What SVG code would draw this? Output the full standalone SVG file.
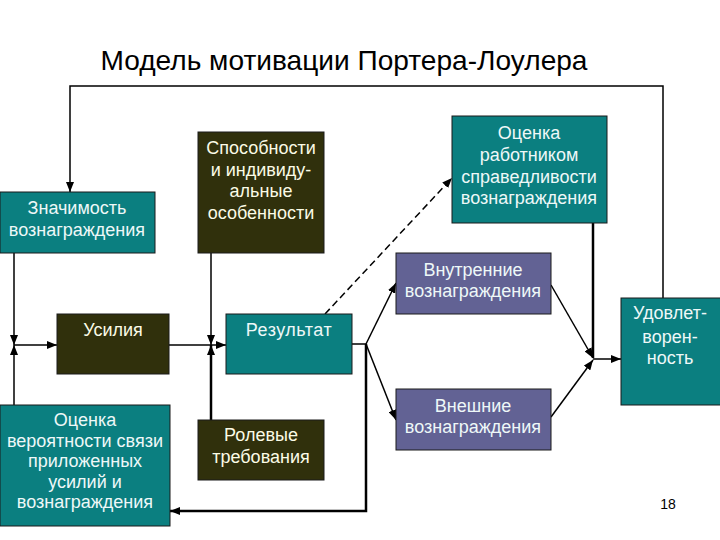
<svg xmlns="http://www.w3.org/2000/svg" width="720" height="540" viewBox="0 0 720 540">
<style>
text{font-family:"Liberation Sans",Arial,sans-serif;font-size:18px;text-anchor:middle}
.teal{fill:#0b7f80;stroke:#1a1a1a;stroke-width:1}
.olive{fill:#30300c;stroke:#1a1a1a;stroke-width:1}
.slate{fill:#626294;stroke:#1a1a1a;stroke-width:1}
.tw{fill:#eef8f8}
.tc{fill:#fbfbe6}
.c{fill:none;stroke:#000;stroke-width:1.5}
.k{stroke-width:2.5}
.a{marker-end:url(#ah)}
.d{stroke-dasharray:7 4}
</style>
<defs>
<marker id="ah" markerUnits="userSpaceOnUse" markerWidth="10" markerHeight="8" viewBox="0 0 10 8" refX="10" refY="4" orient="auto">
<path d="M0,0 L10,4 L0,8 Z" fill="#000"/>
</marker>
</defs>
<rect width="720" height="540" fill="#fff"/>
<text x="344" y="70" style="font-size:28px" textLength="487" lengthAdjust="spacingAndGlyphs" fill="#000">Модель мотивации Портера-Лоулера</text>
<g id="connectors">
<path class="c a" d="M663,298 V86 H70 V192"/>
<path class="c a" d="M14,253 V345"/>
<path class="c a" d="M14,405 V345"/>
<path class="c a" d="M14,345 H57"/>
<path class="c" d="M169,345 H211"/>
<path class="c a" d="M211,345 H226"/>
<path class="c a" d="M211,253 V345"/>
<path class="c k a" d="M211,420 V345"/>
<path class="c" d="M352,344 H366"/>
<path class="c a" d="M366,344 L396,283"/>
<path class="c a" d="M366,344 L396,420"/>
<path class="c k a" d="M366,344 V511 H170"/>
<path class="c d a" d="M325,314 L452,178"/>
<path class="c a" d="M551,285 L593,358"/>
<path class="c a" d="M551,417 L593,360"/>
<path class="c k" d="M593,223 V358"/>
<path class="c a" d="M593,359 H621"/>
</g>
<g id="n-znachimost">
<rect class="teal" x="0" y="192" width="155" height="61"/>
<text class="tw" x="77" y="214">Значимость</text>
<text class="tw" x="77" y="236">вознаграждения</text>
</g>
<g id="n-sposobnosti">
<rect class="olive" x="198" y="132" width="126" height="121"/>
<text class="tc" x="261" y="154">Способности</text>
<text class="tc" x="261" y="176">и индивиду-</text>
<text class="tc" x="261" y="197">альные</text>
<text class="tc" x="261" y="219">особенности</text>
</g>
<g id="n-ocenka-sprav">
<rect class="teal" x="452" y="116" width="155" height="107"/>
<text class="tw" x="529" y="139">Оценка</text>
<text class="tw" x="529" y="161">работником</text>
<text class="tw" x="529" y="183">справедливости</text>
<text class="tw" x="529" y="204">вознаграждения</text>
</g>
<g id="n-vnutrennie">
<rect class="slate" x="396" y="253" width="155" height="61"/>
<text class="tw" x="473" y="276">Внутренние</text>
<text class="tw" x="473" y="297">вознаграждения</text>
</g>
<g id="n-usiliya">
<rect class="olive" x="57" y="314" width="112" height="60"/>
<text class="tc" x="113" y="336">Усилия</text>
</g>
<g id="n-rezultat">
<rect class="teal" x="226" y="314" width="126" height="60"/>
<text class="tw" x="289" y="336" style="letter-spacing:0.5px">Результат</text>
</g>
<g id="n-udovl">
<rect class="teal" x="621" y="298" width="105" height="107"/>
<text class="tw" x="670" y="319">Удовлет-</text>
<text class="tw" x="670" y="343">ворен-</text>
<text class="tw" x="670" y="364">ность</text>
</g>
<g id="n-vneshnie">
<rect class="slate" x="396" y="389" width="155" height="61"/>
<text class="tw" x="473" y="412">Внешние</text>
<text class="tw" x="473" y="433">вознаграждения</text>
</g>
<g id="n-ocenka-ver">
<rect class="teal" x="0" y="405" width="170" height="121"/>
<text class="tw" x="85" y="426">Оценка</text>
<text class="tw" x="85" y="447">вероятности связи</text>
<text class="tw" x="85" y="467">приложенных</text>
<text class="tw" x="85" y="488">усилий и</text>
<text class="tw" x="85" y="508">вознаграждения</text>
</g>
<g id="n-rolevye">
<rect class="olive" x="198" y="420" width="126" height="60"/>
<text class="tc" x="261" y="441">Ролевые</text>
<text class="tc" x="261" y="463">требования</text>
</g>
<text x="668" y="509" style="font-size:14px" fill="#000">18</text>
</svg>
